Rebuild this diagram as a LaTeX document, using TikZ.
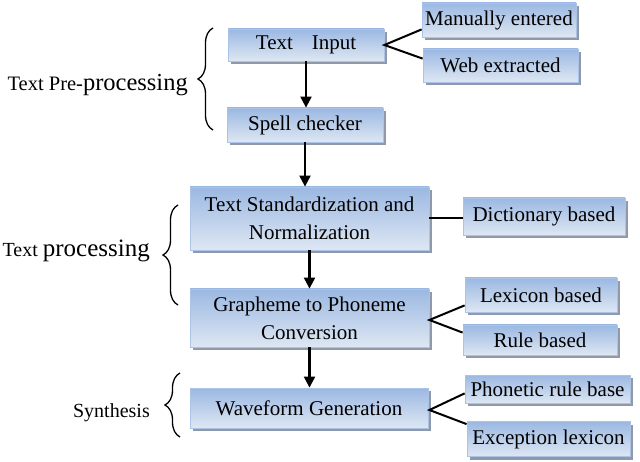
\documentclass[tikz,border=0pt]{standalone}
\usepackage{fontspec}
\setmainfont{Liberation Serif}
\usetikzlibrary{arrows.meta,calc,shadows,decorations.pathreplacing}
\definecolor{boxtop}{RGB}{155,184,226}
\definecolor{boxbot}{RGB}{222,231,243}
\definecolor{boxedge}{RGB}{170,195,230}
\definecolor{shadowc}{RGB}{115,128,148}
\tikzset{
  box/.style={rectangle, draw=boxedge, line width=0.8pt, top color=boxtop, bottom color=boxbot,
    inner sep=0pt, align=center, font=\fontsize{21}{28}\selectfont,
    drop shadow={shadow xshift=2.5pt, shadow yshift=-3pt, fill=shadowc, opacity=0.8}},
  arr/.style={line width=2.2pt, -{Triangle[length=11pt,width=11pt]}},
  link/.style={line width=2pt},
  brc/.style={line width=1.3pt, decorate, decoration={brace, amplitude=15pt, aspect=0.5}},
  lbl/.style={inner sep=0pt, anchor=base east}
}
\begin{document}
\begin{tikzpicture}[x=1pt,y=-1pt]
\useasboundingbox (0,0) rectangle (640,462);
% main column
\node[box, minimum width=156pt, minimum height=32pt] (ti) at (306,45) {Text\hspace{0.9em}Input};
\node[box, minimum width=156pt, minimum height=34pt] (sc) at (305,125) {Spell checker};
\node[box, minimum width=239pt, minimum height=63pt] (ts) at (309.5,218.5) {Text Standardization and\\Normalization};
\node[box, minimum width=239pt, minimum height=58pt] (gp) at (309.5,318) {Grapheme to Phoneme\\Conversion};
\node[box, minimum width=238pt, minimum height=40pt] (wg) at (309,408) {Waveform Generation};
% side boxes
\node[box, minimum width=154pt, minimum height=34pt] (me) at (499,20) {Manually entered};
\node[box, minimum width=155pt, minimum height=33pt] (we) at (500.5,65.5) {Web extracted};
\node[box, minimum width=162pt, minimum height=37pt] (db) at (544,216.5) {Dictionary based};
\node[box, minimum width=152pt, minimum height=34pt] (lb) at (541,295) {Lexicon based};
\node[box, minimum width=154pt, minimum height=30pt] (rb) at (540,340) {Rule based};
\node[box, minimum width=165pt, minimum height=28pt] (pr) at (547.5,389) {Phonetic rule base};
\node[box, minimum width=163pt, minimum height=35pt] (el) at (548.5,439) {Exception lexicon};
% arrows
\draw[arr] (ti.south) -- (ti.south |- sc.north);
\draw[arr] (sc.south) -- (sc.south |- ts.north);
\draw[arr] (ts.south) -- (ts.south |- gp.north);
\draw[arr] (gp.south) -- (gp.south |- wg.north);
% links
\draw[link] ($(me.south west)+(0,-8)$) -- (ti.east) -- ($(we.north west)+(0,10)$);
\draw[link] (ts.east) -- (ts.east -| db.west);
\draw[link] ($(lb.south west)+(0,-7)$) -- ($(gp.east)+(0,2)$) -- ($(rb.north west)+(0,8)$);
\draw[link] ($(pr.south west)+(0,-10)$) -- ($(wg.east)+(1,2)$) -- ($(el.north west)+(0,3)$);
% braces
\coordinate (b1s) at (213,130); \coordinate (b1e) at (213,28);
\coordinate (b2s) at (178,305); \coordinate (b2e) at (178,205);
\coordinate (b3s) at (180,437); \coordinate (b3e) at (180,373);
\draw[brc] (b1s) -- (b1e);
\draw[brc] (b2s) -- (b2e);
\draw[brc] (b3s) -- (b3e);
% labels
\node[lbl] (l1) at (188,91) {\fontsize{20.5}{24}\selectfont Text Pre-\fontsize{24.5}{28}\selectfont processing};
\node[lbl] (l2) at (150,257) {\fontsize{20}{24}\selectfont Text \fontsize{25}{28}\selectfont processing};
\node[lbl] (l3) at (150,417) {\fontsize{20}{24}\selectfont Synthesis};
\end{tikzpicture}
\end{document}
